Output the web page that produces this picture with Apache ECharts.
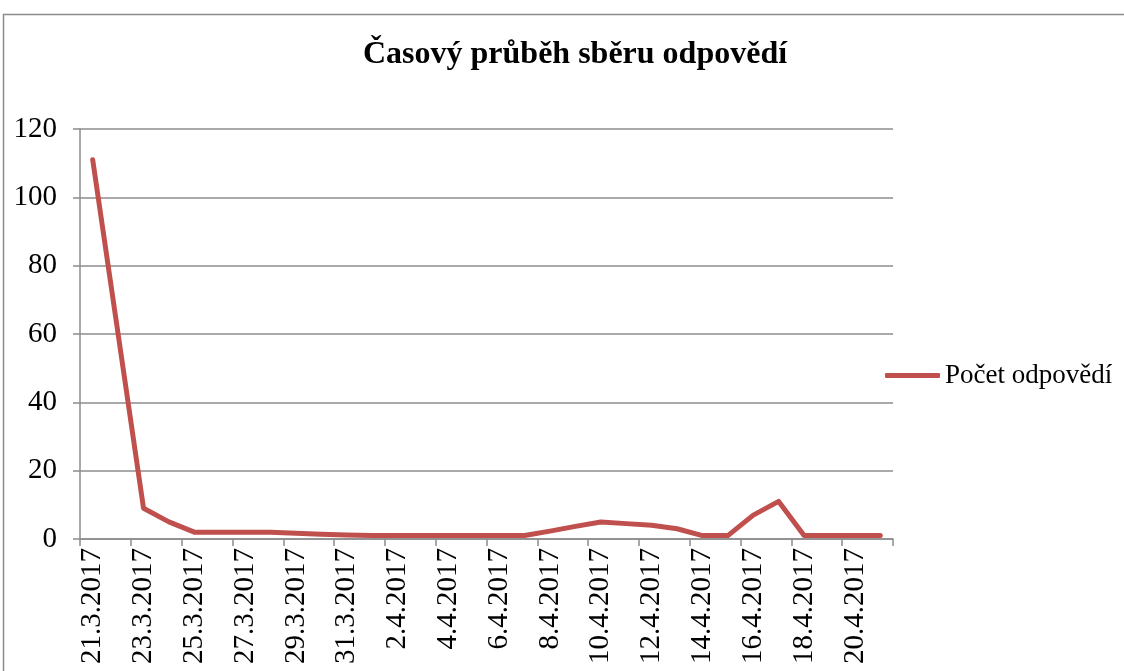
<!DOCTYPE html>
<html>
<head>
<meta charset="utf-8">
<script src="https://cdn.jsdelivr.net/npm/echarts@6/dist/echarts.min.js"></script>
<style>
  html, body { margin: 0; padding: 0; background: #fff; }
  #chart { width: 1124px; height: 671px; }
</style>
</head>
<body>
<div id="chart"></div>
<script>
// dny sběru
const dates = [
  '21.3.2017', '22.3.2017', '23.3.2017', '24.3.2017', '25.3.2017', '26.3.2017',
  '27.3.2017', '28.3.2017', '29.3.2017', '30.3.2017', '31.3.2017',
  '1.4.2017', '2.4.2017', '3.4.2017', '4.4.2017', '5.4.2017', '6.4.2017',
  '7.4.2017', '8.4.2017', '9.4.2017', '10.4.2017', '11.4.2017', '12.4.2017',
  '13.4.2017', '14.4.2017', '15.4.2017', '16.4.2017', '17.4.2017', '18.4.2017',
  '19.4.2017', '20.4.2017', '21.4.2017'
];
// počet odpovědí za den
const answers = [
  111, 60, 9, 5, 2, 2, 2, 2, 1.7, 1.4, 1.2,
  1, 1, 1, 1, 1, 1, 1, 2.3, 3.7, 5, 4.5, 4,
  3, 1, 1, 7, 11, 1, 1, 1, 1
];
const yTicks = [0, 20, 40, 60, 80, 100, 120];

const font = '"Liberation Serif", "Times New Roman", serif';
const gray = '#8c8c8c';

let chart = echarts.init(document.getElementById('chart'));
let option = {
  animation: false,
  textStyle: { fontFamily: font },
  title: {
    text: 'Časový průběh sběru odpovědí',
    left: 358,
    top: 34,
    textStyle: {
      fontFamily: font,
      fontWeight: 'bold',
      fontSize: 32,
      color: '#000',
    },
  },
  graphic: [
    {
      type: 'rect',
      shape: { x: 3.5, y: 14.5, width: 1300, height: 800 },
      style: { fill: 'none', stroke: gray, lineWidth: 1.5 },
      silent: true,
    },
  ],
  legend: {
    orient: 'vertical',
    left: 885,
    top: 362,
    padding: 0,
    icon: 'roundRect',
    itemWidth: 55,
    itemHeight: 5,
    textStyle: { fontFamily: font, fontSize: 27, color: '#000' },
    data: ['Počet odpovědí'],
  },
  grid: {
    left: 80,
    right: 231,
    top: 129,
    bottom: 132,
    containLabel: false,
  },
  xAxis: {
    type: 'category',
    data: dates,
    boundaryGap: true,
    axisLine: { lineStyle: { color: gray, width: 1.5 } },
    axisTick: {
      show: true,
      interval: 1,
      length: 7,
      lineStyle: { color: gray, width: 1.5 },
    },
    axisLabel: {
      interval: 1,
      rotate: 90,
      margin: 9,
      fontFamily: font,
      fontSize: 29,
      color: '#000',
    },
    splitLine: { show: false },
  },
  yAxis: {
    type: 'value',
    min: yTicks[0],
    max: yTicks[yTicks.length - 1],
    interval: 20,
    axisLine: { show: true, lineStyle: { color: gray, width: 1.5 } },
    axisTick: { show: true, length: 7, lineStyle: { color: gray, width: 1.5 } },
    axisLabel: {
      margin: 23,
      fontFamily: font,
      fontSize: 29,
      color: '#000',
    },
    splitLine: { show: true, lineStyle: { color: gray, width: 1.5 } },
  },
  series: [
    {
      name: 'Počet odpovědí',
      type: 'line',
      data: answers,
      showSymbol: false,
      symbol: 'none',
      smooth: false,
      lineStyle: { color: '#C0504D', width: 5, cap: 'round', join: 'round' },
      itemStyle: { color: '#C0504D' },
    },
  ],
};
chart.setOption(option, true);
</script>
</body>
</html>
